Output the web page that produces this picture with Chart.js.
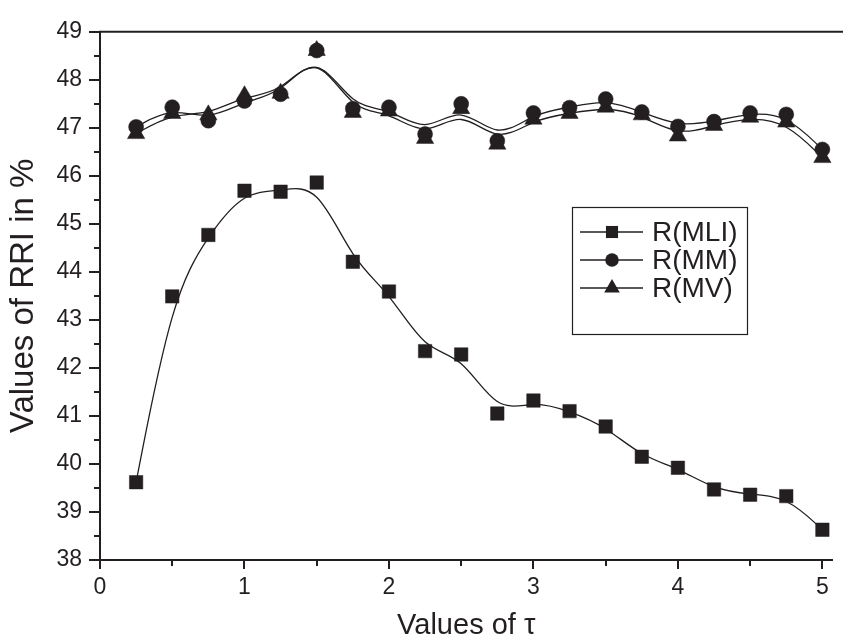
<!DOCTYPE html>
<html>
<head>
<meta charset="utf-8">
<script src="https://cdn.jsdelivr.net/npm/chart.js@4.4.1/dist/chart.umd.min.js"></script>
<style>
  html, body { margin: 0; padding: 0; background: #ffffff; }
  #wrap { width: 843px; height: 638px; position: relative; }
</style>
</head>
<body>
<div id="wrap"><canvas id="chart"></canvas></div>
<script>
// Relative retrieval index (%) for each value of tau
const tauValues = [0.25, 0.5, 0.75, 1.0, 1.25, 1.5, 1.75, 2.0, 2.25, 2.5,
                   2.75, 3.0, 3.25, 3.5, 3.75, 4.0, 4.25, 4.5, 4.75, 5.0];
const rMLI = [39.62, 43.49, 44.77, 45.69, 45.67, 45.86, 44.21, 43.59, 42.35, 42.28,
              41.05, 41.32, 41.10, 40.78, 40.15, 39.92, 39.47, 39.36, 39.33, 38.63];
const rMM  = [47.02, 47.43, 47.15, 47.56, 47.70, 48.61, 47.40, 47.43, 46.87, 47.50,
              46.73, 47.31, 47.42, 47.60, 47.33, 47.03, 47.13, 47.31, 47.28, 46.55];
const rMV  = [46.88, 47.30, 47.27, 47.67, 47.72, 48.61, 47.32, 47.35, 46.78, 47.40,
              46.66, 47.18, 47.30, 47.43, 47.27, 46.83, 47.05, 47.22, 47.12, 46.38];
const seriesNames = ['R(MLI)', 'R(MM)', 'R(MV)'];
const xTickLabels = [0, 1, 2, 3, 4, 5];
const yTickLabels = [38, 39, 40, 41, 42, 43, 44, 45, 46, 47, 48, 49];

const INK = '#231f20';
const FONT = "'Liberation Sans', Arial, Helvetica, sans-serif";

function toPoints(ys) {
  return tauValues.map((t, i) => ({ x: t, y: ys[i] }));
}

// Clamped uniform cubic B-spline drawn with the data points as control points
function strokeBSpline(ctx, pts) {
  const n = pts.length;
  if (n < 2) return;
  const e = [pts[0], pts[0]].concat(pts, [pts[n - 1], pts[n - 1]]);
  ctx.beginPath();
  ctx.moveTo(pts[0].x, pts[0].y);
  for (let i = 0; i + 3 < e.length; i++) {
    const p1 = e[i + 1], p2 = e[i + 2], p3 = e[i + 3];
    const c1x = (2 * p1.x + p2.x) / 3, c1y = (2 * p1.y + p2.y) / 3;
    const c2x = (p1.x + 2 * p2.x) / 3, c2y = (p1.y + 2 * p2.y) / 3;
    const ex = (p1.x + 4 * p2.x + p3.x) / 6, ey = (p1.y + 4 * p2.y + p3.y) / 6;
    ctx.bezierCurveTo(c1x, c1y, c2x, c2y, ex, ey);
  }
  ctx.stroke();
}

const splinePlugin = {
  id: 'splineCurves',
  beforeDatasetsDraw(chart) {
    const ctx = chart.ctx;
    const area = chart.chartArea;
    ctx.save();
    ctx.beginPath();
    ctx.rect(area.left, area.top, area.right - area.left, area.bottom - area.top);
    ctx.clip();
    chart.data.datasets.forEach((ds, i) => {
      const meta = chart.getDatasetMeta(i);
      if (meta.hidden) return;
      const pts = meta.data.map(el => ({ x: el.x, y: el.y }));
      ctx.strokeStyle = INK;
      ctx.lineWidth = 1.3;
      strokeBSpline(ctx, pts);
    });
    ctx.restore();
  }
};

// Frame top edge and outward tick marks (long at labelled values, short between)
const frameTicksPlugin = {
  id: 'frameTicks',
  afterDraw(chart) {
    const ctx = chart.ctx;
    const area = chart.chartArea;
    const xs = chart.scales.x, ys = chart.scales.y;
    ctx.save();
    ctx.strokeStyle = INK;
    ctx.lineWidth = 2;
    ctx.beginPath();
    ctx.moveTo(area.left - 1, area.top);
    ctx.lineTo(chart.width, area.top);
    ctx.stroke();
    ctx.beginPath();
    xs.ticks.forEach(t => {
      const px = Math.round(xs.getPixelForValue(t.value));
      const len = xTickLabels.includes(t.value) ? 9 : 6;
      ctx.moveTo(px, area.bottom);
      ctx.lineTo(px, area.bottom + len);
    });
    ys.ticks.forEach(t => {
      const py = Math.round(ys.getPixelForValue(t.value));
      const len = yTickLabels.includes(t.value) ? 11 : 6;
      ctx.moveTo(area.left, py);
      ctx.lineTo(area.left - len, py);
    });
    ctx.stroke();
    ctx.restore();
  }
};

// Boxed legend: short line through each series marker, then its name
const boxLegendPlugin = {
  id: 'boxLegend',
  afterDraw(chart) {
    const ctx = chart.ctx;
    const box = { x: 572, y: 207, w: 175, h: 127 };
    const rowY = [232, 260, 288];
    ctx.save();
    ctx.fillStyle = '#ffffff';
    ctx.fillRect(box.x, box.y, box.w, box.h);
    ctx.strokeStyle = INK;
    ctx.lineWidth = 1.2;
    ctx.strokeRect(box.x + 0.5, box.y + 0.5, box.w, box.h);
    chart.data.datasets.forEach((ds, i) => {
      const y = rowY[i];
      ctx.strokeStyle = INK;
      ctx.lineWidth = 1.3;
      ctx.beginPath();
      ctx.moveTo(580, y);
      ctx.lineTo(643, y);
      ctx.stroke();
      ctx.fillStyle = INK;
      ctx.strokeStyle = INK;
      Chart.helpers.drawPoint(ctx, {
        pointStyle: ds.pointStyle,
        rotation: 0,
        radius: ds.pointRadius * 0.9,
        borderWidth: 0
      }, 612, y);
      ctx.fillStyle = INK;
      ctx.font = '28px ' + FONT;
      ctx.textAlign = 'left';
      ctx.textBaseline = 'middle';
      ctx.fillText(ds.label, 652, y + 1);
    });
    ctx.restore();
  }
};

const pointDataset = (label, ys, style, radius) => ({
  label: label,
  data: toPoints(ys),
  showLine: false,
  pointStyle: style,
  pointRadius: radius,
  pointHoverRadius: radius,
  pointBackgroundColor: INK,
  pointBorderColor: INK,
  pointBorderWidth: 0.5
});

new Chart(document.getElementById('chart'), {
  type: 'scatter',
  data: {
    datasets: [
      pointDataset(seriesNames[0], rMLI, 'rect', 9.5),
      pointDataset(seriesNames[1], rMM, 'circle', 7.5),
      pointDataset(seriesNames[2], rMV, 'triangle', 10)
    ]
  },
  options: {
    responsive: true,
    maintainAspectRatio: false,
    animation: false,
    events: [],
    layout: { padding: { top: 22, right: 0, bottom: 0, left: 0 } },
    plugins: {
      legend: { display: false },
      tooltip: { enabled: false }
    },
    scales: {
      x: {
        type: 'linear',
        min: 0,
        max: 5.07,
        grid: { display: false, drawTicks: false },
        border: { display: true, color: INK, width: 2 },
        ticks: {
          stepSize: 0.5,
          includeBounds: false,
          autoSkip: false,
          maxRotation: 0,
          padding: 14,
          color: INK,
          font: { family: FONT, size: 23 },
          callback: v => (xTickLabels.includes(v) ? String(v) : '')
        },
        title: {
          display: true,
          text: 'Values of \u03c4',
          color: INK,
          font: { family: FONT, size: 29, lineHeight: 0.8 },
          padding: { top: 0, bottom: 0 }
        },
        afterFit: s => { s.height = 78; }
      },
      y: {
        type: 'linear',
        min: 38,
        max: 49,
        grid: { display: false, drawTicks: false },
        border: { display: true, color: INK, width: 2 },
        ticks: {
          stepSize: 0.5,
          autoSkip: false,
          padding: 18,
          color: INK,
          font: { family: FONT, size: 23 },
          callback: v => (yTickLabels.includes(v) ? String(v) : '')
        },
        title: {
          display: true,
          text: 'Values of RRI in %',
          color: INK,
          font: { family: FONT, size: 33, lineHeight: 1 },
          padding: { top: 7, bottom: 0 }
        },
        afterFit: s => { s.width = 100; }
      }
    }
  },
  plugins: [splinePlugin, frameTicksPlugin, boxLegendPlugin]
});
</script>
</body>
</html>
